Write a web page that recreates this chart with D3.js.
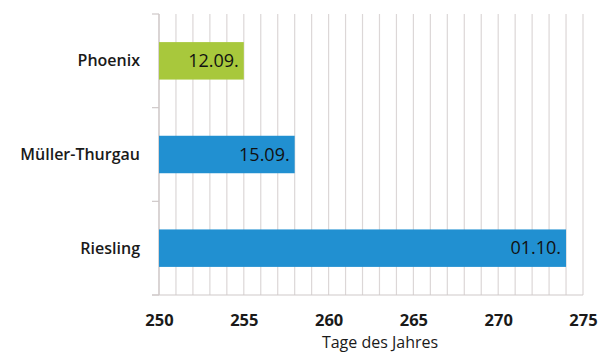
<!DOCTYPE html>
<html>
<head>
<meta charset="utf-8">
<script src="https://cdn.jsdelivr.net/npm/d3@7"></script>
<style>
  html, body { margin: 0; padding: 0; background: #fff; }
  svg { display: block; font-family: "Open Sans", "Noto Sans", sans-serif; }
</style>
</head>
<body>
<svg id="chart" width="613" height="354"></svg>
<script>
// Reifebeginn der Rebsorten (Tag des Jahres)
const varieties = ["Phoenix", "Müller-Thurgau", "Riesling"];
const dayOfYear = [255, 258, 274];
const dateLabels = ["12.09.", "15.09.", "01.10."];
const barColors = ["#a8c83c", "#2190d1", "#2190d1"];
const xTicks = [250, 255, 260, 265, 270, 275];
const xTitle = "Tage des Jahres";

const svg = d3.select("#chart");
const margin = { top: 14, right: 30, bottom: 59, left: 159 };
const width = 613 - margin.left - margin.right;
const height = 354 - margin.top - margin.bottom;

const g = svg.append("g").attr("transform", `translate(${margin.left},${margin.top})`);

const x = d3.scaleLinear().domain([250, 275]).range([0, width]);
const y = d3.scaleBand().domain(varieties).range([0, height]).paddingInner(0.6).paddingOuter(0.3);

// vertical gridlines, one per day
g.append("g")
  .selectAll("line")
  .data(d3.range(250, 276))
  .join("line")
  .attr("x1", d => x(d)).attr("x2", d => x(d))
  .attr("y1", 0).attr("y2", height)
  .attr("stroke", "#dcd7d7")
  .attr("stroke-width", 1.2);

// category axis line and ticks at band boundaries
g.append("line")
  .attr("x1", 0).attr("x2", 0).attr("y1", 0).attr("y2", height)
  .attr("stroke", "#cfc9c9").attr("stroke-width", 1.2);
const bandEdges = [0, height / 3, 2 * height / 3, height];
g.append("g")
  .selectAll("line")
  .data(bandEdges)
  .join("line")
  .attr("x1", -7).attr("x2", 0)
  .attr("y1", d => d).attr("y2", d => d)
  .attr("stroke", "#cfc9c9").attr("stroke-width", 1.2);

// bottom axis line
g.append("line")
  .attr("x1", -7).attr("x2", width)
  .attr("y1", height).attr("y2", height)
  .attr("stroke", "#cfc9c9").attr("stroke-width", 1.2);

// x tick labels
const xAxis = d3.axisBottom(x).tickValues(xTicks).tickSize(0).tickPadding(19);
const xg = g.append("g").attr("transform", `translate(0,${height})`).call(xAxis);
xg.select(".domain").remove();
xg.selectAll("text")
  .attr("font-family", "'Open Sans', 'Noto Sans', sans-serif")
  .attr("font-size", 16.5)
  .attr("font-weight", "bold")
  .attr("fill", "#1a1a1a");

// x axis title
svg.append("text")
  .attr("x", 380)
  .attr("y", 348)
  .attr("text-anchor", "middle")
  .attr("font-size", 16)
  .attr("fill", "#1a1a1a")
  .text(xTitle);

// category labels
g.append("g")
  .selectAll("text")
  .data(varieties)
  .join("text")
  .attr("x", -19)
  .attr("y", d => y(d) + y.bandwidth() / 2)
  .attr("dy", "0.35em")
  .attr("text-anchor", "end")
  .attr("font-size", 16)
  .attr("font-weight", 600)
  .attr("fill", "#1a1a1a")
  .text(d => d);

// bars
g.append("g")
  .selectAll("rect")
  .data(varieties)
  .join("rect")
  .attr("x", x(250))
  .attr("y", d => y(d))
  .attr("width", (d, i) => x(dayOfYear[i]) - x(250))
  .attr("height", y.bandwidth())
  .attr("fill", (d, i) => barColors[i]);

// date labels inside bar ends
g.append("g")
  .selectAll("text")
  .data(varieties)
  .join("text")
  .attr("x", (d, i) => x(dayOfYear[i]) - 5)
  .attr("y", d => y(d) + y.bandwidth() / 2)
  .attr("dy", "0.35em")
  .attr("text-anchor", "end")
  .attr("font-size", 18)
  .attr("fill", "#111")
  .text((d, i) => dateLabels[i]);
</script>
</body>
</html>
